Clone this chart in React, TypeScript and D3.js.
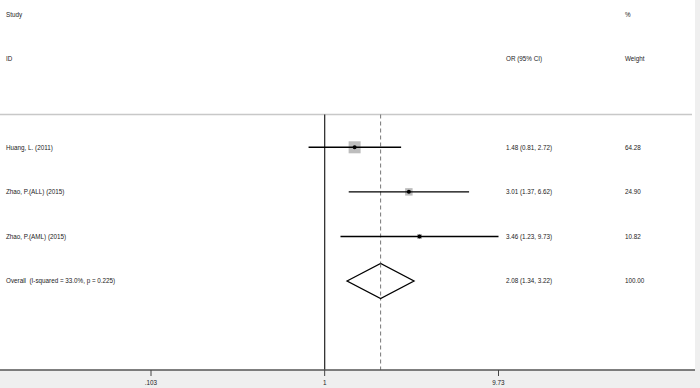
import React from 'react';
import * as d3 from 'd3';

const studies = ['Huang, L. (2011)', 'Zhao, P.(ALL) (2015)', 'Zhao, P.(AML) (2015)'];
const oddsRatios = [1.48, 3.01, 3.46];
const lowerCI = [0.81, 1.37, 1.23];
const upperCI = [2.72, 6.62, 9.73];
const weights = [64.28, 24.9, 10.82];
const overallLabel = 'Overall  (I-squared = 33.0%, p = 0.225)';
const overall = { or: 2.08, lo: 1.34, hi: 3.22, weight: 100 };
const tickValues = [0.103, 1, 9.73];
const tickLabels = ['.103', '1', '9.73'];

const W = 700;
const H = 388;
const font = 'Liberation Sans, Arial, sans-serif';

const App = () => {
  const x = d3.scaleLog().domain([0.103, 9.73]).range([151, 498.5]);
  const y = d3.scaleLinear().domain([0, 3]).range([147.3, 281]);
  // box side proportional to sqrt(weight)
  const boxSize = d3.scaleSqrt().domain([0, 64.28]).range([0, 12]);

  const axisY = 370;
  const topY = 114.5;
  const fmt = (v: number) => v.toFixed(2);

  const diamond = d3.line<[number, number]>()([
    [x(overall.lo), y(3)],
    [x(overall.or), y(3) - 17.5],
    [x(overall.hi), y(3)],
    [x(overall.or), y(3) + 17.5],
  ]) + 'Z';

  return (
    <svg width={W} height={H} style={{ position: 'absolute', left: 0, top: 0 }} fontFamily={font}>
      <rect x={0} y={0} width={W} height={H} fill="#efefef" />
      <rect x={0} y={0} width={695} height={axisY} fill="#ffffff" />

      {/* header */}
      <g fontSize={6.3} fill="#222">
        <text x={6} y={17}>Study</text>
        <text x={6} y={60.5}>ID</text>
        <text x={506} y={60.5}>OR (95% CI)</text>
        <text x={625} y={17}>%</text>
        <text x={625} y={60.5}>Weight</text>
      </g>
      <line x1={0} x2={692} y1={topY} y2={topY} stroke="#c8c8c8" strokeWidth={1.5} />

      {/* null line and overall line */}
      <line x1={x(1)} x2={x(1)} y1={topY} y2={axisY} stroke="#333" strokeWidth={1.3} />
      <line x1={x(overall.or)} x2={x(overall.or)} y1={topY} y2={axisY}
        stroke="#777" strokeWidth={1} strokeDasharray="4,3" />

      {/* studies */}
      {studies.map((s, i) => {
        const yy = y(i);
        const b = boxSize(weights[i]);
        return (
          <g key={s}>
            <text x={6} y={yy + 2.2} fontSize={6.3} fill="#222">{s}</text>
            <rect x={x(oddsRatios[i]) - b / 2} y={yy - b / 2} width={b} height={b} fill="#bdbdbd" />
            <line x1={x(lowerCI[i])} x2={x(upperCI[i])} y1={yy} y2={yy} stroke="#000" strokeWidth={1.4} />
            <circle cx={x(oddsRatios[i])} cy={yy} r={2} fill="#000" />
            <text x={506} y={yy + 2.2} fontSize={6.3} fill="#222">
              {`${fmt(oddsRatios[i])} (${fmt(lowerCI[i])}, ${fmt(upperCI[i])})`}
            </text>
            <text x={625} y={yy + 2.2} fontSize={6.3} fill="#222">{fmt(weights[i])}</text>
          </g>
        );
      })}

      {/* overall */}
      <text x={6} y={y(3) + 2.2} fontSize={6.3} fill="#222" style={{ whiteSpace: 'pre' }}>{overallLabel}</text>
      <path d={diamond} fill="#fff" stroke="#000" strokeWidth={1.3} />
      <line x1={x(overall.or)} x2={x(overall.or)} y1={y(3) - 17.5} y2={y(3) + 17.5}
        stroke="#777" strokeWidth={1} strokeDasharray="4,3" />
      <text x={506} y={y(3) + 2.2} fontSize={6.3} fill="#222">
        {`${fmt(overall.or)} (${fmt(overall.lo)}, ${fmt(overall.hi)})`}
      </text>
      <text x={625} y={y(3) + 2.2} fontSize={6.3} fill="#222">{fmt(overall.weight)}</text>

      {/* x axis */}
      <line x1={0} x2={695} y1={axisY} y2={axisY} stroke="#555" strokeWidth={1.6} />
      {tickValues.map((t, i) => (
        <g key={t}>
          <line x1={x(t)} x2={x(t)} y1={axisY} y2={axisY + 6} stroke="#444" strokeWidth={1} />
          <text x={x(t)} y={385} fontSize={6.3} fill="#222" textAnchor="middle">{tickLabels[i]}</text>
        </g>
      ))}
    </svg>
  );
};

export default App;
